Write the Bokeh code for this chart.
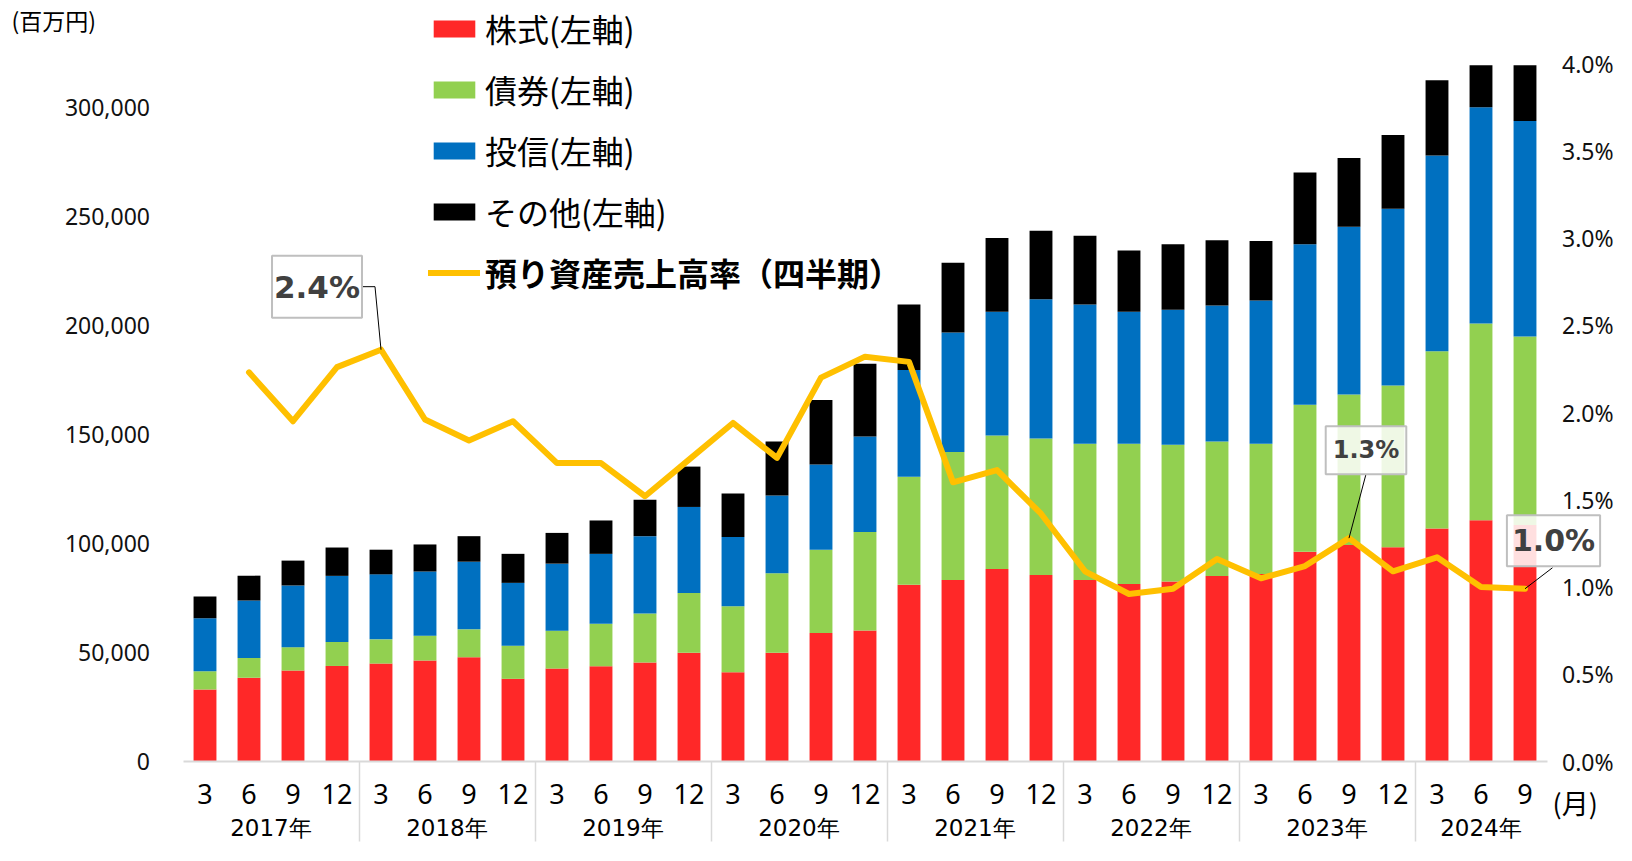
from bokeh.plotting import figure
from bokeh.models import (ColumnDataSource, Range1d, LinearAxis, FixedTicker, NumeralTickFormatter,
                          PrintfTickFormatter, CustomJSTickFormatter, Legend, LegendItem, Label, Grid)
from bokeh.embed import file_html
from bokeh.resources import INLINE

# ---------------- data ----------------
years = ["2017年", "2018年", "2019年", "2020年", "2021年", "2022年", "2023年", "2024年"]
months = ["3", "6", "9", "12"]
periods = [(y, m) for y in years for m in months][:31]   # 2017/3 .. 2024/9

# 百万円
stocks = [33000, 38400, 41700, 43800, 44900, 46300, 47800, 37900, 42600, 43700, 45400, 49800,
          40900, 49800, 58900, 60100, 81000, 83200, 88300, 85500, 83200, 81400, 82500, 85100,
          86000, 96200, 99200, 98200, 106800, 110600, 108400]
bonds = [8400, 9100, 10700, 11000, 11100, 11400, 12800, 15200, 17400, 19500, 22500, 27400,
         30300, 36500, 38200, 45100, 49500, 58700, 61200, 62600, 62500, 64300, 62700, 61600,
         59700, 67300, 69100, 74200, 81300, 90200, 86400]
funds = [24300, 26300, 28300, 30300, 29800, 29400, 31000, 28800, 30700, 32000, 35400, 39500,
         31700, 35600, 39100, 43800, 49000, 54800, 56700, 63800, 63800, 60500, 61900, 62300,
         65700, 73600, 76900, 81000, 89700, 99100, 98800]
others = [10000, 11400, 11400, 13000, 11300, 12400, 11700, 13300, 14100, 15300, 16700, 18500,
          20000, 24800, 29500, 33400, 30000, 31900, 33800, 31400, 31500, 28100, 30000, 30000,
          27200, 32900, 31500, 33800, 34500, 19300, 25600]
# 預り資産売上高率 (%), from 2017/6
rate = [2.23, 1.95, 2.26, 2.36, 1.96, 1.84, 1.95, 1.71, 1.71, 1.52, 1.73, 1.94, 1.74, 2.20,
        2.32, 2.29, 1.60, 1.67, 1.42, 1.09, 0.96, 0.99, 1.16, 1.05, 1.12, 1.28, 1.09, 1.17,
        1.00, 0.99]

series_names = ["株式(左軸)", "債券(左軸)", "投信(左軸)", "その他(左軸)"]
line_name = "預り資産売上高率（四半期）"
left_ticks = [0, 50000, 100000, 150000, 200000, 250000, 300000]
right_ticks = [0.0, 0.5, 1.0, 1.5, 2.0, 2.5, 3.0, 3.5, 4.0]
LEFT_MAX, RIGHT_MAX = 320000, 4.0

# ---------------- derived positions (category slots) ----------------
n = len(periods)
xpos = [i + 0.5 for i in range(n)]
month_labels = [m for _, m in periods]
rate_x = xpos[1:]
boundaries = [i for i in range(1, n) if periods[i][0] != periods[i - 1][0]]
year_centers = []
for y in years:
    xs = [xpos[i] for i in range(n) if periods[i][0] == y]
    year_centers.append(sum(xs) / len(xs))

# ---------------- layout / styles ----------------
W, H = 1616, 845
X0 = 182.5      # canvas x of the first category's left edge
CAT = 44.0      # px per category
BASE = 761.0    # canvas y of zero
TOP = 63.0      # canvas y of the top of the value scale
px_left = (BASE - TOP) / LEFT_MAX
px_rate = (BASE - TOP) / RIGHT_MAX

colors = ["#FF2828", "#92D050", "#0070C0", "#000000"]
line_color = "#FFC000"
axis_grey = "#D9D9D9"

src = ColumnDataSource(dict(x=xpos, stocks=stocks, bonds=bonds, funds=funds, others=others))

p = figure(x_range=Range1d(-X0 / CAT, (W - X0) / CAT),
           y_range=Range1d(-(H - BASE) / px_left, BASE / px_left),
           width=W, height=H, output_backend="svg", toolbar_location=None,
           x_axis_location=None, y_axis_location=None, min_border=0,
           min_border_left=0, min_border_right=0, min_border_top=0, min_border_bottom=0)
p.outline_line_color = None
p.background_fill_color = "white"
p.border_fill_color = "white"
p.renderers = [r for r in p.renderers if not isinstance(r, Grid)]
p.center = [r for r in p.center if not isinstance(r, Grid)]
p.extra_y_ranges = {"rate": Range1d(-(H - BASE) / px_rate, BASE / px_rate)}

bars = p.vbar_stack(["stocks", "bonds", "funds", "others"], x="x", width=0.52,
                    fill_color=colors, line_color=None, source=src)

rline = p.line(x=rate_x, y=rate, y_range_name="rate", line_color=line_color,
               line_width=6, line_join="round", line_cap="round")

# ---------------- axes (fixed inside the frame) ----------------
ya = LinearAxis(fixed_location=0, ticker=FixedTicker(ticks=left_ticks),
                formatter=NumeralTickFormatter(format="0,0"))
ra = LinearAxis(y_range_name="rate", fixed_location=n, ticker=FixedTicker(ticks=right_ticks),
                formatter=PrintfTickFormatter(format="%.1f%%"))
for ax, so in ((ya, 33), (ra, 15)):
    ax.axis_line_color = None
    ax.major_tick_line_color = None
    ax.minor_tick_line_color = None
    ax.major_tick_out = 0
    ax.major_tick_in = 0
    ax.major_label_standoff = so
    ax.major_label_text_font = "Noto Sans"
    ax.major_label_text_font_size = "23px"
    ax.major_label_text_color = "#111111"
p.add_layout(ya, "left")
p.add_layout(ra, "right")

# month labels + base line
mx = LinearAxis(fixed_location=0, bounds=(0, n), ticker=FixedTicker(ticks=xpos),
                formatter=CustomJSTickFormatter(args=dict(labels=month_labels),
                                                code="return labels[Math.round(tick - 0.5)];"))
mx.axis_line_color = axis_grey
mx.axis_line_width = 2
mx.major_tick_line_color = None
mx.minor_tick_line_color = None
mx.major_tick_out = 0
mx.major_tick_in = 0
mx.major_label_standoff = 22
mx.major_label_text_font = "Noto Sans"
mx.major_label_text_font_size = "27px"
mx.major_label_text_color = "#000000"

# year separators
sx_ax = LinearAxis(fixed_location=0, ticker=FixedTicker(ticks=boundaries),
                   formatter=CustomJSTickFormatter(code="return '';"))
sx_ax.axis_line_color = None
sx_ax.minor_tick_line_color = None
sx_ax.major_tick_in = 0
sx_ax.major_tick_out = 80
sx_ax.major_tick_line_color = axis_grey
sx_ax.major_tick_line_width = 1.5

# year labels
yx = LinearAxis(fixed_location=0, ticker=FixedTicker(ticks=year_centers),
                formatter=CustomJSTickFormatter(args=dict(pos=year_centers, labels=years),
                                                code="const i = pos.indexOf(tick); return i < 0 ? '' : labels[i];"))
yx.axis_line_color = None
yx.major_tick_line_color = None
yx.minor_tick_line_color = None
yx.major_tick_out = 0
yx.major_tick_in = 0
yx.major_label_standoff = 53
yx.major_label_text_font = "DejaVu Sans"
yx.major_label_text_font_size = "23px"
yx.major_label_text_color = "#000000"

for ax in (sx_ax, mx, yx):
    p.add_layout(ax, "below")

# ---------------- legends ----------------
leg_common = dict(orientation="vertical", padding=0, margin=0, glyph_width=52, glyph_height=21,
                  label_height=21, label_standoff=5, label_text_font="Noto Sans CJK JP",
                  label_text_font_size="32px", label_text_color="#000000",
                  border_line_color=None, background_fill_alpha=0)
legA = Legend(items=[LegendItem(label=nm, renderers=[r]) for nm, r in zip(series_names, bars)],
              location=(428, 611), spacing=15, **leg_common)
legB = Legend(items=[LegendItem(label=line_name, renderers=[rline])],
              location=(428, 550), label_text_font_style="bold", **leg_common)
p.add_layout(legA)
p.add_layout(legB)

# ---------------- unit labels ----------------
p.add_layout(Label(x=11, y=826, x_units="screen", y_units="screen", text="(百万円)",
                   text_font="Noto Sans CJK JP", text_font_size="23px", text_color="#000000",
                   text_baseline="middle", text_align="left"))
p.add_layout(Label(x=1552, y=43, x_units="screen", y_units="screen", text="(月)",
                   text_font="Noto Sans CJK JP", text_font_size="27px", text_color="#000000",
                   text_baseline="middle", text_align="left"))

# ---------------- call-outs ----------------
# (period index, font px, box centre offset px, padding, leader offsets px)
callouts = [
    (4, 31, (-64, 63), (2, 13), [(-6, 63), (-19, 63)]),
    (26, 24, (17, 88), (7, 10), [(17, 64)]),
    (30, 30, (28.5, 48), (5, 8), [(27.5, 21)]),
]
lx, ly = [], []
for idx, fs, (dx, dy), pad, leader in callouts:
    v = rate[idx - 1]
    x = xpos[idx]
    lx.append([x] + [x + a / CAT for a, _ in leader])
    ly.append([v] + [v + b / px_rate for _, b in leader])
    p.add_layout(Label(x=x, y=v, x_offset=dx, y_offset=dy, y_range_name="rate",
                       text=f"{v:.1f}%",
                       text_font="DejaVu Sans", text_font_size=f"{fs}px", text_font_style="bold",
                       text_color="#404040", text_align="center", text_baseline="middle",
                       background_fill_color="white", background_fill_alpha=0.85,
                       border_line_color="#BFBFBF", border_line_width=2, padding=pad))
p.multi_line(xs=lx, ys=ly, y_range_name="rate", line_color="#000000", line_width=1)

open("out.html", "w").write(file_html(p, INLINE))
